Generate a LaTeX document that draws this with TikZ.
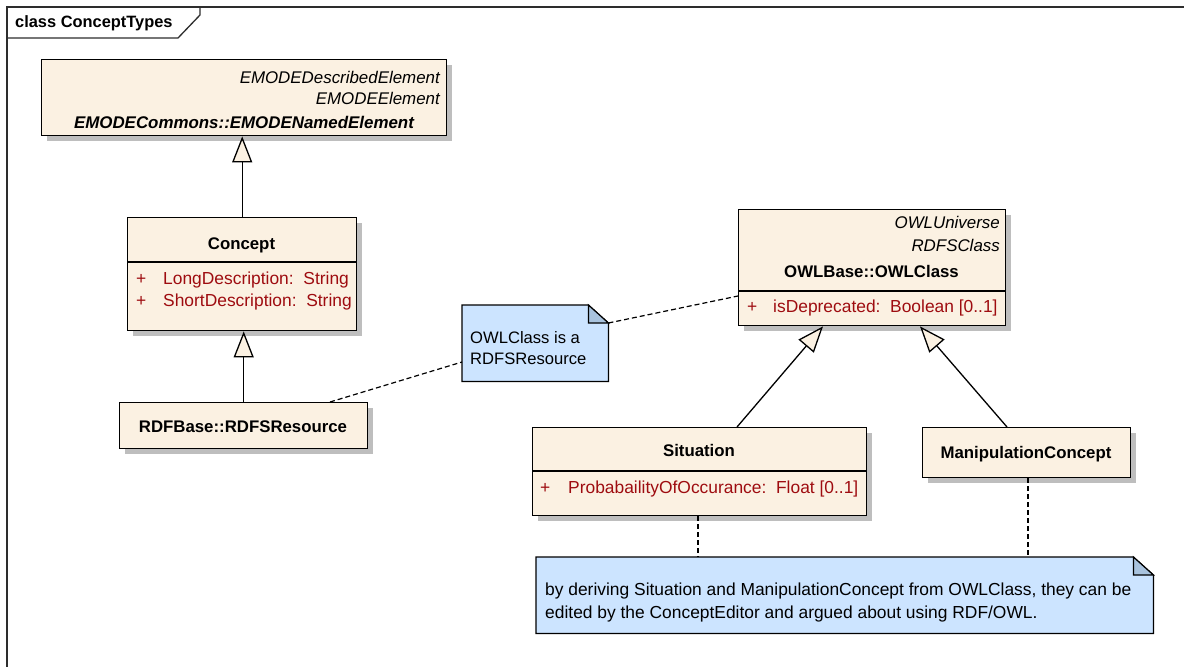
\documentclass[tikz,border=0pt]{standalone}
\usepackage{fontspec}
\setmainfont{Liberation Sans}
\usetikzlibrary{arrows.meta,calc,shadows}

\definecolor{umlfill}{RGB}{251,241,226}
\definecolor{notefill}{RGB}{204,228,255}
\definecolor{notefold}{RGB}{169,195,222}
\definecolor{attrred}{RGB}{158,12,16}
\definecolor{shadowgray}{RGB}{190,190,190}
\definecolor{framegray}{RGB}{45,45,45}

\newcommand{\regsize}{\fontsize{17.4}{20}\selectfont}
\newcommand{\boldsize}{\fontsize{16.8}{20}\selectfont\bfseries}
\newcommand{\itsize}{\fontsize{16.9}{20}\selectfont\itshape}

\tikzset{
  classbox/.style={draw=black, line width=1.4pt, fill=umlfill, anchor=north west,
    inner sep=0pt, drop shadow={shadow xshift=5pt, shadow yshift=-5pt,
    fill=shadowgray, opacity=1}},
  notebox/.style={anchor=north west, inner sep=0pt},
  notedraw/.style={draw=black, line width=1.2pt, fill=notefill, line join=miter},
  foldstyle/.style={draw=black, line width=1.2pt, fill=notefold, line join=miter},
  txt/.style={anchor=base, inner sep=0pt, font=\regsize},
  txtl/.style={txt, anchor=base west},
  txtr/.style={txt, anchor=base east},
  attr/.style={txtl, text=attrred},
  divider/.style={line width=1.3pt},
  gen/.style={line width=1.3pt, -{Triangle[length=26pt, width=20pt, fill=umlfill, line width=1.3pt]}},
  anchorline/.style={line width=1.2pt, dash pattern=on 5pt off 3pt}
}

\begin{document}
\begin{tikzpicture}[x=1pt, y=-1pt]
\useasboundingbox (0,0) rectangle (1184,667);
\fill[white] (0,0) rectangle (1184,667);

% diagram frame and its name tab
\draw[framegray, line width=1.6pt] (7,690) -- (7,7) -- (1200,7);
\draw[framegray, line width=1.3pt] (7,38) -- (178,38) -- (200,15) -- (200,7);
\node[txtl, font=\fontsize{16.4}{19}\selectfont\bfseries] (title) at (15,27) {class ConceptTypes};

% EMODECommons::EMODENamedElement
\node[classbox, minimum width=405pt, minimum height=76pt] (emode) at (41,59) {};
\node[txtr, font=\itsize] (emodeA) at (440,83) {EMODEDescribedElement};
\node[txtr, font=\itsize] (emodeB) at (440,104) {EMODEElement};
\node[txt, font=\fontsize{16.9}{20}\selectfont\bfseries\itshape] (emodeN) at (244,128) {EMODECommons::EMODENamedElement};

% Concept
\node[classbox, minimum width=229pt, minimum height=113pt] (concept) at (127,217) {};
\draw[divider] (127,262) -- (356,262);
\node[txt, font=\boldsize] (conceptN) at (241.5,249) {Concept};
\node[attr] (cp1) at (136,284) {+};
\node[attr] (ca1) at (163,284) {LongDescription:\ \ String};
\node[attr] (cp2) at (136,306) {+};
\node[attr] (ca2) at (163,306) {ShortDescription:\ \ String};

% RDFBase::RDFSResource
\node[classbox, minimum width=248pt, minimum height=46pt] (rdfs) at (119,402) {};
\node[txt, font=\boldsize] (rdfsN) at (243,432) {RDFBase::RDFSResource};

% OWLBase::OWLClass
\node[classbox, minimum width=267pt, minimum height=116pt] (owl) at (738,209) {};
\draw[divider] (738,291) -- (1005,291);
\node[txtr, font=\itsize] (owlA) at (1000,228) {OWLUniverse};
\node[txtr, font=\itsize] (owlB) at (1000,251) {RDFSClass};
\node[txt, font=\boldsize] (owlN) at (871.5,277) {OWLBase::OWLClass};
\node[attr] (op1) at (747,312) {+};
\node[attr] (oa1) at (773,312) {isDeprecated:\ \ Boolean [0..1]};

% Situation
\node[classbox, minimum width=334pt, minimum height=88pt] (sit) at (532,427) {};
\draw[divider] (532,471) -- (866,471);
\node[txt, font=\boldsize] (sitN) at (699,456) {Situation};
\node[attr] (sp1) at (540,493) {+};
\node[attr] (sa1) at (568,493) {ProbabailityOfOccurance:\ \ Float [0..1]};

% ManipulationConcept
\node[classbox, minimum width=208pt, minimum height=50pt] (manip) at (922,427) {};
\node[txt, font=\boldsize] (manipN) at (1026,458) {ManipulationConcept};

% note: OWLClass is a RDFSResource
\node[notebox, minimum width=146pt, minimum height=76pt] (noteA) at (462,305) {};
\draw[notedraw] (noteA.north west) -- ($(noteA.north east)+(-20,0)$) -- ($(noteA.north east)+(0,18)$)
  -- (noteA.south east) -- (noteA.south west) -- cycle;
\draw[foldstyle] ($(noteA.north east)+(-20,0)$) -- ($(noteA.north east)+(-20,18)$) -- ($(noteA.north east)+(0,18)$) -- cycle;
\node[txtl, font=\fontsize{16.6}{20}\selectfont] (noteAt1) at (470,343) {OWLClass is a};
\node[txtl, font=\fontsize{16.6}{20}\selectfont] (noteAt2) at (470,364) {RDFSResource};

% note on deriving from OWLClass
\node[notebox, minimum width=617pt, minimum height=76pt] (noteB) at (536,557) {};
\draw[notedraw] (noteB.north west) -- ($(noteB.north east)+(-20,0)$) -- ($(noteB.north east)+(0,18)$)
  -- (noteB.south east) -- (noteB.south west) -- cycle;
\draw[foldstyle] ($(noteB.north east)+(-20,0)$) -- ($(noteB.north east)+(-20,18)$) -- ($(noteB.north east)+(0,18)$) -- cycle;
\node[txtl] (noteBt1) at (545,595) {by deriving Situation and ManipulationConcept from OWLClass, they can be};
\node[txtl] (noteBt2) at (545,618) {edited by the ConceptEditor and argued about using RDF/OWL.};

% generalizations
\draw[gen] (concept.north) -- (concept.north |- emode.south);
\draw[gen] (rdfs.north) -- (rdfs.north |- concept.south);
\draw[gen] ($(sit.north west)+(205,0)$) -- ($(owl.south west)+(85,0)$);
\draw[gen] ($(manip.north west)+(85,0)$) -- ($(owl.south west)+(182,0)$);

% note anchors
\draw[anchorline] ($(rdfs.north west)+(211,0)$) -- ($(noteA.north west)+(0,57)$);
\draw[anchorline] ($(noteA.north east)+(0,18)$) -- ($(owl.north west)+(0,87)$);
\coordinate (sitfoot) at ($(sit.south west)+(166,0)$);
\coordinate (manipfoot) at ($(manip.south west)+(106,0)$);
\draw[anchorline] (sitfoot) -- (sitfoot |- noteB.north);
\draw[anchorline] (manipfoot) -- (manipfoot |- noteB.north);
\end{tikzpicture}
\end{document}
